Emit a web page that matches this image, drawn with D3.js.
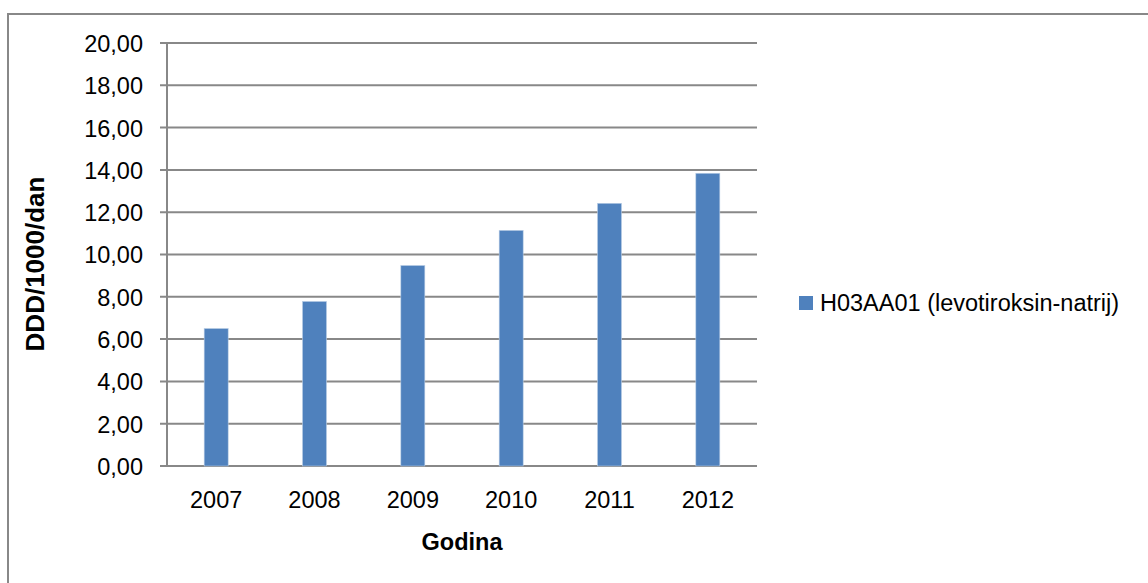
<!DOCTYPE html>
<html>
<head>
<meta charset="utf-8">
<script src="https://cdn.jsdelivr.net/npm/d3@7"></script>
<style>
  body { margin: 0; background: #fff; }
  text { font-family: "Liberation Sans", Arial, sans-serif; fill: #000; }
</style>
</head>
<body>
<script>
// data
let years = ["2007", "2008", "2009", "2010", "2011", "2012"];
let values = [6.50, 7.78, 9.48, 11.14, 12.42, 13.84];
let yTicks = [0, 2, 4, 6, 8, 10, 12, 14, 16, 18, 20];
let seriesName = "H03AA01 (levotiroksin-natrij)";

let margin = null, width = null, height = null;
let svg = null, plot = null;
let x, y = null;
let fontSize = "23.5px";

setupCanvasSize();
appendSvg("body");
setupXScale();
setupYScale();
appendGrid();
appendChartBars();
appendAxes();
appendTitles();
appendLegend();

function setupCanvasSize() {
  margin = {top: 43, left: 167, bottom: 117, right: 391};
  width = 1148 - margin.left - margin.right;
  height = 583 - margin.top - margin.bottom;
}

function appendSvg(domElement) {
  svg = d3.select(domElement).append("svg")
    .attr("width", 1148)
    .attr("height", 583);

  // chart border
  svg.append("rect")
    .attr("x", 8).attr("y", 14)
    .attr("width", 1150).attr("height", 580)
    .attr("fill", "none")
    .attr("stroke", "#888")
    .attr("stroke-width", 2);

  plot = svg.append("g")
    .attr("transform", `translate(${margin.left}, ${margin.top})`);
}

function setupXScale() {
  x = d3.scaleBand()
    .range([0, width])
    .domain(years)
    .paddingInner(0.756)
    .paddingOuter(0.378);
}

function setupYScale() {
  y = d3.scaleLinear()
    .range([height, 0])
    .domain([0, 20]);
}

function appendGrid() {
  plot.append("g")
    .selectAll("line")
    .data(yTicks)
    .enter()
    .append("line")
    .attr("x1", -7)
    .attr("x2", width)
    .attr("y1", d => y(d))
    .attr("y2", d => y(d))
    .attr("stroke", "#888")
    .attr("stroke-width", 2);
}

function appendChartBars() {
  plot.selectAll(".bar")
    .data(values)
    .enter()
    .append("rect")
    .attr("class", "bar")
    .attr("x", (d, i) => x(years[i]))
    .attr("y", d => y(d))
    .attr("width", x.bandwidth())
    .attr("height", d => height - y(d))
    .attr("fill", "#4f81bd")
    .attr("stroke", "#b9cde5")
    .attr("stroke-width", 0.6);
}

function appendAxes() {
  let yAxis = plot.append("g")
    .call(d3.axisLeft(y)
      .tickValues(yTicks)
      .tickSize(0)
      .tickPadding(24)
      .tickFormat(d => d3.format(".2f")(d).replace(".", ",")));
  yAxis.select(".domain").remove();
  yAxis.selectAll("text")
    .style("font-size", fontSize)
    .attr("dy", "0.36em");

  plot.append("line")
    .attr("x1", 0).attr("x2", 0)
    .attr("y1", 0).attr("y2", height)
    .attr("stroke", "#888")
    .attr("stroke-width", 2);

  let xAxis = plot.append("g")
    .attr("transform", `translate(0, ${height})`)
    .call(d3.axisBottom(x).tickSize(0).tickPadding(25));
  xAxis.select(".domain").remove();
  xAxis.selectAll("text")
    .style("font-size", fontSize);
}

function appendTitles() {
  svg.append("text")
    .attr("x", margin.left + width / 2)
    .attr("y", 550)
    .attr("text-anchor", "middle")
    .style("font-size", fontSize)
    .style("font-weight", "bold")
    .text("Godina");

  svg.append("text")
    .attr("transform", "translate(44, 264) rotate(-90)")
    .attr("text-anchor", "middle")
    .style("font-size", "26px")
    .style("font-weight", "bold")
    .text("DDD/1000/dan");
}

function appendLegend() {
  let legend = svg.append("g")
    .attr("class", "legend")
    .attr("transform", "translate(799, 296)");
  legend.append("rect")
    .attr("width", 14)
    .attr("height", 14)
    .style("fill", "#4f81bd");
  legend.append("text")
    .attr("x", 21)
    .attr("y", 7)
    .attr("dy", "0.36em")
    .style("font-size", fontSize)
    .text(seriesName);
}
</script>
</body>
</html>
